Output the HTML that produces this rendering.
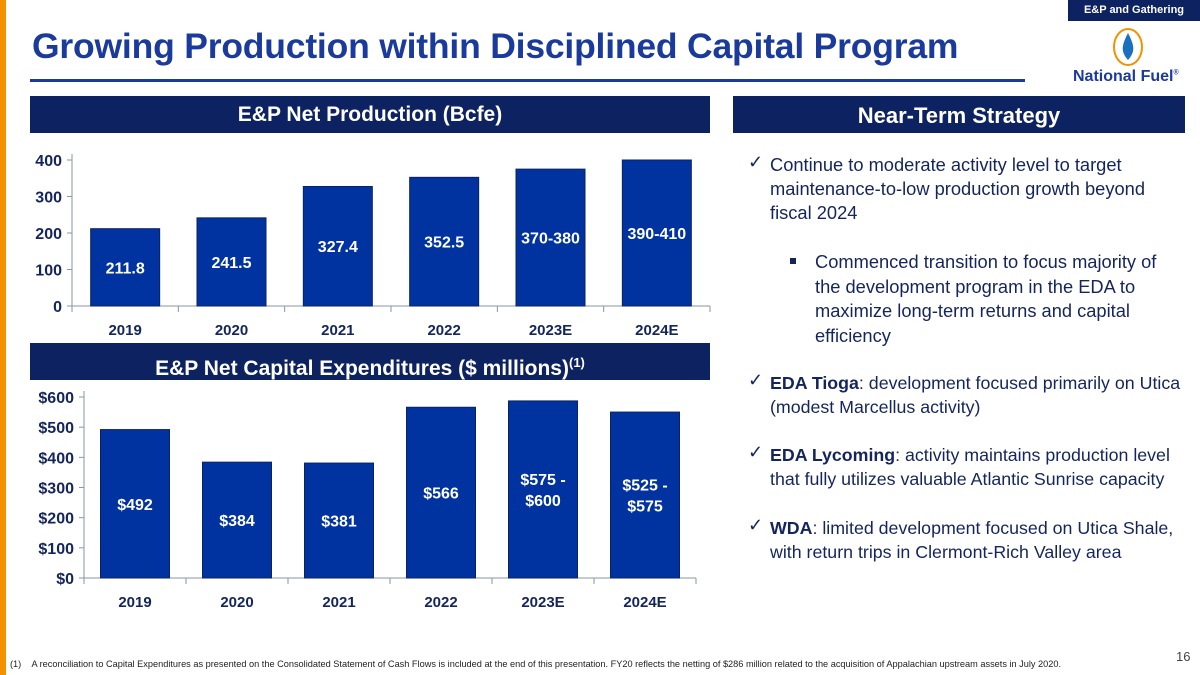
<!DOCTYPE html>
<html><head><meta charset="utf-8"><style>
body{margin:0;width:1200px;height:675px;position:relative;background:#fff;font-family:"Liberation Sans",sans-serif;overflow:hidden}
.abs{position:absolute}
.hdr{position:absolute;background:#0d2260;color:#fff;font-weight:bold;font-size:21px;text-align:center}
.rt{position:absolute;left:770px;font-size:18.3px;color:#14255e;white-space:nowrap;line-height:24px}
.ck{position:absolute;left:748px;font-size:18px;color:#14255e}
svg text{font-family:"Liberation Sans",sans-serif}
</style></head><body>
<div class="abs" style="left:0;top:0;width:6px;height:675px;background:#f39200"></div>
<div class="abs" style="left:1068px;top:0;width:132px;height:21px;background:#0d2260;color:#fff;font-size:11px;font-weight:bold;text-align:center;line-height:21px">E&amp;P and Gathering</div>
<div class="abs" style="left:32px;top:26px;font-size:35.5px;font-weight:bold;color:#1a3a9c;letter-spacing:-0.2px">Growing Production within Disciplined Capital Program</div>
<div class="abs" style="left:30px;top:79px;width:995px;height:3px;background:#1a3a9c"></div>
<svg class="abs" style="left:1112px;top:27px" width="32" height="40"><ellipse cx="16" cy="20" rx="14" ry="18" fill="none" stroke="#f39200" stroke-width="2"/><path d="M16 6 C10 18 8 24 16 33 C24 24 22 18 16 6Z" fill="#1a6fc0"/></svg>
<div class="abs" style="left:1073px;top:68px;font-size:16px;font-weight:bold;color:#1a3a9c">National Fuel<sup style="font-size:7px">®</sup></div>

<div class="hdr" style="left:30px;top:96px;width:680px;height:37px;line-height:37px">E&amp;P Net Production (Bcfe)</div>
<div class="hdr" style="left:733px;top:96px;width:452px;height:37px;line-height:39px;font-size:22px">Near-Term Strategy</div>
<div class="hdr" style="left:30px;top:343px;width:680px;height:37px;line-height:40px">E&amp;P Net Capital Expenditures ($ millions)<sup style="font-size:13px">(1)</sup></div>

<svg class="abs" style="left:0;top:0" width="1200" height="675" id="charts"></svg>

<div class="ck" style="top:152px">✓</div>
<div class="rt" style="top:153px">Continue to moderate activity level to target<br>maintenance-to-low production growth beyond<br>fiscal 2024</div>
<div class="abs" style="left:790px;top:258px;width:6px;height:6px;background:#14255e"></div>
<div class="rt" style="left:815px;top:250px;line-height:24.5px">Commenced transition to focus majority of<br>the development program in the EDA to<br>maximize long-term returns and capital<br>efficiency</div>
<div class="ck" style="top:370px">✓</div>
<div class="rt" style="top:371px;font-size:17.8px"><b>EDA Tioga</b>: development focused primarily on Utica<br>(modest Marcellus activity)</div>
<div class="ck" style="top:442px">✓</div>
<div class="rt" style="top:443px;font-size:17.8px"><b>EDA Lycoming</b>: activity maintains production level<br>that fully utilizes valuable Atlantic Sunrise capacity</div>
<div class="ck" style="top:515px">✓</div>
<div class="rt" style="top:516px;font-size:17.8px"><b>WDA</b>: limited development focused on Utica Shale,<br>with return trips in Clermont-Rich Valley area</div>

<div class="abs" style="left:1176px;top:649px;font-size:13px;color:#444">16</div>
<div class="abs" style="left:10px;top:659px;font-size:9.2px;color:#222;white-space:nowrap">(1)&nbsp;&nbsp;&nbsp;&nbsp;A reconciliation to Capital Expenditures as presented on the Consolidated Statement of Cash Flows is included at the end of this presentation. FY20 reflects the netting of $286 million related to the acquisition of Appalachian upstream assets in July 2020.</div>

<script>
const categories=["2019","2020","2021","2022","2023E","2024E"];
const prodValues=[211.8,241.5,327.4,352.5,375,400];
const prodLabels=["211.8","241.5","327.4","352.5","370-380","390-410"];
const prodTicks=[0,100,200,300,400];
const capexValues=[492,384,381,566,587,550];
const capexLabels=[["$492"],["$384"],["$381"],["$566"],["$575 -","$600"],["$525 -","$575"]];
const capexTicks=[0,100,200,300,400,500,600];
const capexTickLabels=["$0","$100","$200","$300","$400","$500","$600"];

const svg=document.getElementById('charts');
const NS='http://www.w3.org/2000/svg';
function mk(t,a,p){const e=document.createElementNS(NS,t);for(const k in a)e.setAttribute(k,a[k]);(p||svg).appendChild(e);return e;}
function drawChart(cfg){
  const {x0,x1,y0,yTop,vmax,vals,labels,ticks,tickLabels,name}=cfg;
  const band=(x1-x0)/categories.length;
  const ys=v=>y0-(v/vmax)*(y0-yTop);
  const g=mk('g',{});
  
  
  const ax=mk('line',{x1:x0,y1:y0,x2:x0,y2:yTop-6,stroke:'#8a94a8','stroke-width':1},g);
  
  
  const bx=mk('line',{x1:x0,y1:y0,x2:x1,y2:y0,stroke:'#8a94a8','stroke-width':1},g);
  
  
  ticks.forEach((t,i)=>{
    mk('line',{x1:x0-5,y1:ys(t),x2:x0,y2:ys(t),stroke:'#8a94a8'},g);
    const tx=mk('text',{x:x0-10,y:ys(t)+6,'text-anchor':'end','font-size':16,'font-weight':'bold',fill:'#14255e'},g);
    tx.textContent=tickLabels[i];
    
    
  });
  for(let i=0;i<=categories.length;i++) mk('line',{x1:x0+i*band,y1:y0,x2:x0+i*band,y2:y0+6,stroke:'#8a94a8'},g);
  categories.forEach((c,i)=>{
    const cx=x0+band*(i+0.5), top=ys(vals[i]);
    const r=mk('rect',{x:cx-34.5,y:top,width:69,height:y0-top,fill:'#0033a0',stroke:'#0d2260','stroke-width':1},g);
    
    
    const lab=Array.isArray(labels[i])?labels[i]:[labels[i]];
    const mid=(top+y0)/2, lh=21;
    lab.forEach((l,j)=>{
      const t=mk('text',{x:cx,y:mid+6+(j-(lab.length-1)/2)*lh,'text-anchor':'middle','font-size':16,'font-weight':'bold',fill:'#fff'},g);
      t.textContent=l;
      
      
    });
    const xl=mk('text',{x:cx,y:y0+29,'text-anchor':'middle','font-size':15,'font-weight':'bold',fill:'#14255e'},g);
    xl.textContent=c;
    
    
  });
}
drawChart({x0:72,x1:710,y0:306,yTop:160,vmax:400,vals:prodValues,labels:prodLabels,ticks:prodTicks,tickLabels:prodTicks.map(String),name:'production-chart'});
drawChart({x0:84,x1:696,y0:578,yTop:397,vmax:600,vals:capexValues,labels:capexLabels,ticks:capexTicks,tickLabels:capexTickLabels,name:'capex-chart'});
</script>
</body></html>
